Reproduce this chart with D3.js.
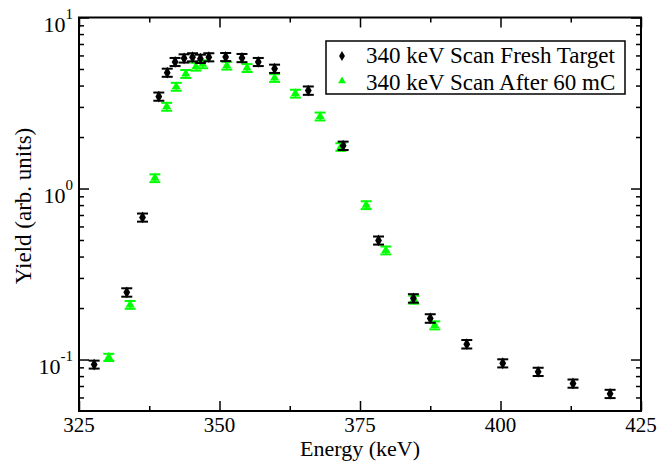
<!DOCTYPE html>
<html>
<head>
<meta charset="utf-8">
<style>
  body { margin: 0; background: #fff; }
  text, tspan { font-family: "Liberation Serif", "DejaVu Serif", serif !important; }
</style>
</head>
<body>
<div id="chart"></div>
<script src="https://d3js.org/d3.v7.min.js"></script>
<script>
    // data
    const freshE   = [327.7, 333.5, 336.3, 339.2, 340.7, 342.1, 343.7, 345.2, 346.6, 348.1, 351.1, 354.0,
                      356.9, 359.8, 365.8, 372.0, 378.3, 384.5, 387.5, 394.0, 400.4, 406.7, 412.9, 419.5];
    const freshY   = [0.0935, 0.247, 0.677, 3.45, 4.76, 5.50, 5.77, 5.86, 5.74, 5.86, 5.88, 5.80,
                      5.50, 5.02, 3.74, 1.78, 0.497, 0.228, 0.174, 0.123, 0.0951, 0.0848, 0.0724, 0.063];
    const freshErr = [0.005, 0.014, 0.037, 0.19, 0.26, 0.30, 0.32, 0.32, 0.32, 0.32, 0.32, 0.32,
                      0.30, 0.28, 0.21, 0.10, 0.027, 0.013, 0.010, 0.007, 0.0052, 0.0047, 0.004, 0.0035];

    const agedE    = [330.3, 334.1, 338.5, 340.6, 342.3, 344.0, 345.8, 347.0, 351.3, 354.9, 359.8, 363.5,
                      367.9, 371.6, 376.1, 379.6, 384.6, 388.3];
    const agedY    = [0.103, 0.209, 1.15, 3.01, 3.94, 4.68, 5.16, 5.33, 5.23, 5.07, 4.43, 3.59,
                      2.64, 1.75, 0.80, 0.435, 0.224, 0.1586];
    const agedErr  = [0.005, 0.011, 0.06, 0.16, 0.21, 0.25, 0.27, 0.28, 0.27, 0.27, 0.23, 0.19,
                      0.14, 0.09, 0.042, 0.023, 0.012, 0.0085];

    const seriesNames = ['340 keV Scan Fresh Target', '340 keV Scan After 60 mC'];
    const xMajor = [325, 350, 375, 400, 425];
    const xMinor = [337.5, 362.5, 387.5, 412.5];
    const yMajor = [0.1, 1, 10];
    const yExp   = ['-1', '0', '1'];
    const yMinor = [0.06, 0.07, 0.08, 0.09, 0.2, 0.3, 0.4, 0.5, 0.6, 0.7, 0.8, 0.9,
                    2, 3, 4, 5, 6, 7, 8, 9];

    const W = 659, H = 463;
    const m = {left: 79, right: 18, top: 17.5, bottom: 52};
    const iw = W - m.left - m.right, ih = H - m.top - m.bottom;

    const svg = d3.select('#chart').append('svg').attr('width', W).attr('height', H);
    const g = svg.append('g').attr('transform', `translate(${m.left},${m.top})`);

    const x = d3.scaleLinear().domain([325, 425]).range([0, iw]);
    const y = d3.scaleLog().domain([0.05, 10]).range([ih, 0]);

    // ticks on all four sides, pointing inward
    function ticks(axisFn, scale, vals, size, transform) {
        const a = g.append('g').attr('transform', transform)
                   .call(axisFn(scale).tickValues(vals).tickSize(size).tickFormat(''));
        a.select('.domain').remove();
        a.selectAll('line').attr('stroke', '#000').attr('stroke-width', 1.5);
    }
    ticks(d3.axisBottom, x, xMajor, -10, `translate(0,${ih})`);
    ticks(d3.axisBottom, x, xMinor, -5, `translate(0,${ih})`);
    ticks(d3.axisTop, x, xMajor, -10, 'translate(0,0)');
    ticks(d3.axisTop, x, xMinor, -5, 'translate(0,0)');
    ticks(d3.axisLeft, y, yMajor, -10, 'translate(0,0)');
    ticks(d3.axisLeft, y, yMinor, -5, 'translate(0,0)');
    ticks(d3.axisRight, y, yMajor, -10, `translate(${iw},0)`);
    ticks(d3.axisRight, y, yMinor, -5, `translate(${iw},0)`);

    g.append('rect').attr('width', iw).attr('height', ih)
     .attr('fill', 'none').attr('stroke', '#000').attr('stroke-width', 2);

    // x tick labels
    g.selectAll('.xl').data(xMajor).enter().append('text')
     .attr('x', d => x(d)).attr('y', ih + 20.5)
     .attr('text-anchor', 'middle').attr('font-size', 21)
     .text(d => d);

    // y tick labels 10^n
    const yl = g.selectAll('.yl').data(yMajor).enter().append('text')
     .attr('x', -6).attr('y', d => y(d) + 14)
     .attr('text-anchor', 'end').attr('font-size', 22);
    yl.append('tspan').text('10');
    yl.append('tspan').attr('dy', -13).attr('font-size', 15).text((d, i) => yExp[i]);

    // axis titles
    g.append('text').attr('x', iw / 2).attr('y', ih + 45)
     .attr('text-anchor', 'middle').attr('font-size', 22)
     .text('Energy (keV)');
    svg.append('text').attr('transform', `translate(31,206) rotate(-90)`)
     .attr('text-anchor', 'middle').attr('font-size', 23)
     .text('Yield (arb. units)');

    const diamond = d3.symbol().type(d3.symbolDiamond).size(40);
    const triangle = d3.symbol().type(d3.symbolTriangle).size(36);

    function drawSeries(E, Y, Err, color, sym) {
        const s = g.append('g');
        E.forEach((e, i) => {
            const cx = x(e), y0 = y(Y[i] - Err[i]), y1 = y(Y[i] + Err[i]);
            s.append('line').attr('x1', cx).attr('x2', cx).attr('y1', y0).attr('y2', y1)
             .attr('stroke', color).attr('stroke-width', 1.5);
            [y0, y1].forEach(yy => s.append('line')
                .attr('x1', cx - 5.5).attr('x2', cx + 5.5).attr('y1', yy).attr('y2', yy)
                .attr('stroke', color).attr('stroke-width', 2));
            s.append('path').attr('d', sym).attr('fill', color)
             .attr('transform', `translate(${cx},${y(Y[i])})`);
        });
    }
    drawSeries(agedE, agedY, agedErr, '#00ff00', triangle);
    drawSeries(freshE, freshY, freshErr, '#000000', diamond);

    // legend
    const lg = svg.append('g');
    lg.append('rect').attr('x', 326).attr('y', 41).attr('width', 299).attr('height', 53)
      .attr('fill', '#fff').attr('stroke', '#000').attr('stroke-width', 1.5);
    lg.append('path').attr('d', d3.symbol().type(d3.symbolDiamond).size(30))
      .attr('transform', 'translate(342,56)').attr('fill', '#000');
    lg.append('path').attr('d', d3.symbol().type(d3.symbolTriangle).size(26))
      .attr('transform', 'translate(342,81)').attr('fill', '#00ff00');
    lg.selectAll('.lt').data(seriesNames).enter().append('text')
      .attr('x', 366).attr('y', (d, i) => 63 + i * 26.5)
      .attr('font-size', 23).text(d => d);
</script>
</body>
</html>
